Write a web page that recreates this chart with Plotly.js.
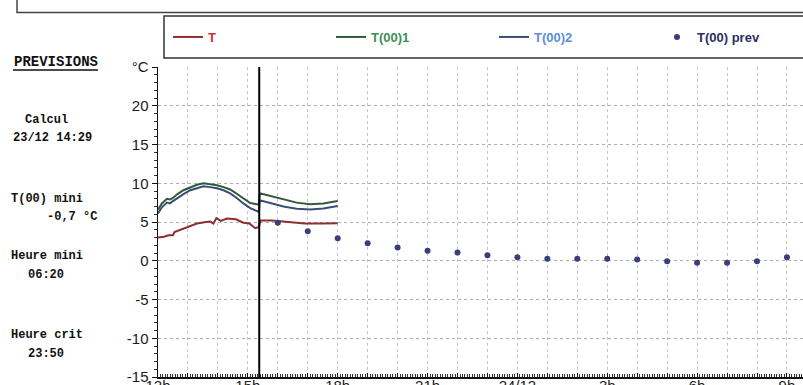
<!DOCTYPE html>
<html>
<head>
<meta charset="utf-8">
<script src="https://cdn.plot.ly/plotly-3.0.1.min.js"></script>
<style>html,body{margin:0;padding:0;background:#fff;overflow:hidden;width:803px;height:385px;}#chart{width:840px;height:385px;}</style>
</head>
<body>
<div id="chart"></div>
<script>
// ---- data (hours since 23/12 00:00; 24 = 24/12 00:00) ----
const measX = [12.0,12.13,12.3,12.4,12.5,12.65,12.85,13.08,13.3,13.52,13.74,13.97,14.19,14.41,14.63,14.85,15.08,15.3,15.37,15.4,15.5,15.74,16.19,16.63,17.08,17.52,18.0];
const t001 = [6.6,7.4,8.0,7.9,8.1,8.6,9.1,9.5,9.8,10.0,9.85,9.75,9.5,9.2,8.65,8.05,7.45,7.3,7.25,8.7,8.6,8.35,7.9,7.5,7.3,7.4,7.7];
const t002 = [6.1,6.9,7.5,7.4,7.7,8.1,8.6,9.1,9.4,9.6,9.5,9.35,9.1,8.7,8.1,7.4,6.8,6.4,6.3,7.8,7.7,7.4,7.0,6.7,6.6,6.75,7.05];
const tX   = [12.0,12.2,12.35,12.5,12.55,12.75,12.9,13.1,13.3,13.6,13.75,13.85,13.95,14.1,14.3,14.6,14.85,15.05,15.25,15.37,15.42,15.8,16.3,16.9,17.5,18.0];
const tVal = [3.0,3.1,3.3,3.3,3.7,4.0,4.3,4.6,4.8,5.0,5.05,4.8,5.5,5.15,5.45,5.35,4.9,4.8,4.2,4.35,5.2,5.2,5.05,4.8,4.8,4.85];
const prevX = [16,17,18,19,20,21,22,23,24,25,26,27,28,29,30,31,32,33];
const prevVal = [4.9,3.8,2.9,2.25,1.7,1.3,1.05,0.7,0.45,0.25,0.25,0.25,0.15,-0.05,-0.25,-0.25,-0.05,0.45];
const nowHour = 15.38;
const tickHours = [12,13,14,15,16,17,18,19,20,21,22,23,24,25,26,27,28,29,30,31,32,33,34];
const tickLabels = ['12h','','','15h','','','18h','','','21h','','','24/12','','','3h','','','6h','','','9h',''];
const yTicks = [-15,-10,-5,0,5,10,15,20,25];
const yLabels = ['-15','-10','-5','0','5','10','15','20','°C'];
const sideTexts = [
  ['Calcul', 23, 120], ['23/12 14:29', 11, 138],
  ['T(00) mini', 9, 199], ['-0,7 °C', 45, 217],
  ['Heure mini', 9, 256], ['06:20', 26, 275],
  ['Heure crit', 9, 335], ['23:50', 26, 354]
];

// ---- pixel helpers for paper coords (figure is 840 wide; window shows 803) ----
const FW = 840, L = 158, R = 840, T = 67, B = 377;
const PXH = 29.95; // pixels per hour
const px = x => (x - L) / (R - L);
const py = y => (B - y) / (B - T);

const traces = [
  {x: tX, y: tVal, mode: 'lines', name: '<span style="color:#d0303a">T</span>',
   line: {color: '#8e2e30', width: 2}},
  {x: measX, y: t001, mode: 'lines', name: '<span style="color:#3f8f55">T(00)1</span>',
   line: {color: '#2e5a3a', width: 2}},
  {x: measX, y: t002, mode: 'lines', name: '<span style="color:#5b8fd6">T(00)2</span>',
   line: {color: '#3a4c78', width: 2}},
  {x: prevX, y: prevVal, mode: 'markers', name: '<span style="color:#2a2f60">T(00) prev</span>',
   marker: {color: '#3b3f78', size: 6}}
];

const annotations = sideTexts.map(([t, x, y]) => ({
  text: '<b>' + t + '</b>', xref: 'paper', yref: 'paper', x: px(x), y: py(y),
  xanchor: 'left', yanchor: 'middle', showarrow: false,
  font: {family: 'Liberation Mono, Courier New, monospace', size: 12, color: '#111'}
}));
annotations.push({
  text: '<b>PREVISIONS</b>', xref: 'paper', yref: 'paper', x: px(12), y: py(62),
  xanchor: 'left', yanchor: 'middle', showarrow: false,
  font: {family: 'Liberation Mono, Courier New, monospace', size: 14, color: '#111'}
});

const tickFont = {family: 'Liberation Sans, Arial, sans-serif', size: 15, color: '#1a1a1a'};

const layout = {
  width: FW, height: 385,
  margin: {l: L, r: FW - R, t: T, b: 385 - B, pad: 0},
  paper_bgcolor: '#fff', plot_bgcolor: '#fff',
  showlegend: true,
  legend: {orientation: 'h', x: px(168), xanchor: 'left', y: py(37), yanchor: 'middle',
    entrywidth: 118, entrywidthmode: 'pixels', borderwidth: 0, bgcolor: 'rgba(0,0,0,0)',
    font: {family: 'Liberation Sans, Arial, sans-serif', size: 13, weight: 'bold'}},
  xaxis: {
    range: [12, 12 + (R - L) / PXH], tickmode: 'array', tickvals: tickHours, ticktext: tickLabels,
    showgrid: true, gridcolor: '#bcc6d6', griddash: 'dot', gridwidth: 1,
    zeroline: false, showline: true, linecolor: '#111', linewidth: 1.5,
    ticks: 'inside', ticklen: 4, tickcolor: '#111',
    minor: {dtick: 1/12, ticks: 'inside', ticklen: 3, tickcolor: '#333', showgrid: false},
    tickfont: tickFont, ticklabeloverflow: 'allow', ticklabelstandoff: -6,
    automargin: false, fixedrange: true
  },
  yaxis: {
    range: [-15, 25], tickmode: 'array', tickvals: yTicks, ticktext: yLabels,
    showgrid: true, gridcolor: '#a8adb6', griddash: 'dot', gridwidth: 1,
    zeroline: false, showline: true, linecolor: '#111', linewidth: 1.5,
    ticks: 'outside', ticklen: 5, tickcolor: '#111',
    minor: {dtick: 1, ticks: 'outside', ticklen: 3, tickcolor: '#333', showgrid: false},
    tickfont: tickFont, ticklabeloverflow: 'allow',
    automargin: false, fixedrange: true
  },
  shapes: [
    {type: 'line', xref: 'x', yref: 'paper', x0: nowHour, x1: nowHour, y0: 0, y1: 1,
     line: {color: '#000', width: 2}},
    {type: 'rect', xref: 'paper', yref: 'paper', x0: px(164), x1: px(830), y0: py(58), y1: py(16),
     line: {color: '#333', width: 1.5}},
    {type: 'rect', xref: 'paper', yref: 'paper', x0: px(17), x1: px(830), y0: py(12.5), y1: py(-10),
     line: {color: '#444', width: 1.5}},
    {type: 'line', xref: 'paper', yref: 'paper', x0: px(13), x1: px(98), y0: py(70), y1: py(70),
     line: {color: '#111', width: 1.5}}
  ],
  annotations: annotations
};

Plotly.newPlot('chart', traces, layout, {displayModeBar: false, staticPlot: true});
</script>
</body>
</html>
